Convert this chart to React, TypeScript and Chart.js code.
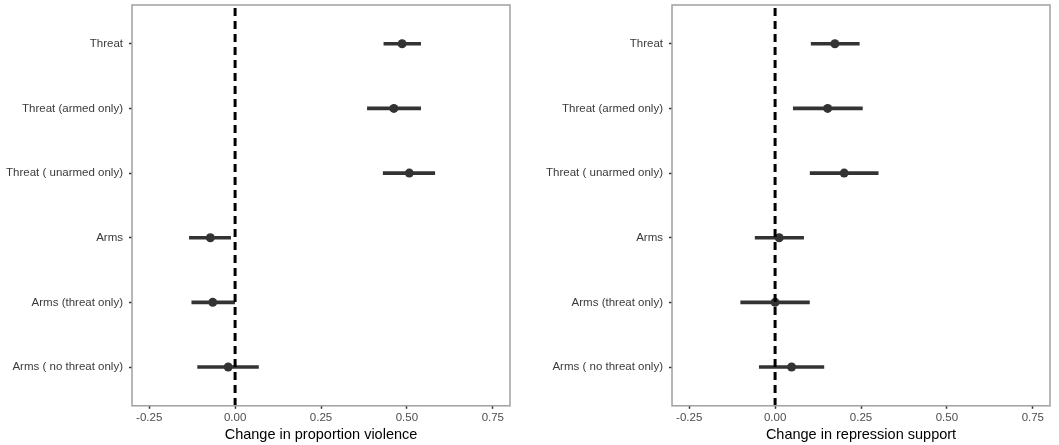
import React, { useEffect, useRef } from "react";
import { Chart, registerables } from "chart.js";

Chart.register(...registerables);

const categories = [
  "Threat",
  "Threat (armed only)",
  "Threat ( unarmed only)",
  "Arms",
  "Arms (threat only)",
  "Arms ( no threat only)",
];

const xTicks = [-0.25, 0, 0.25, 0.5, 0.75];

const violenceEst = [0.486, 0.462, 0.507, -0.072, -0.065, -0.02];
const violenceLo = [0.433, 0.385, 0.431, -0.133, -0.126, -0.109];
const violenceHi = [0.54, 0.54, 0.581, -0.013, 0.0, 0.068];

const repressionEst = [0.174, 0.153, 0.201, 0.012, 0.0, 0.048];
const repressionLo = [0.105, 0.053, 0.102, -0.058, -0.1, -0.046];
const repressionHi = [0.245, 0.254, 0.3, 0.083, 0.1, 0.142];

const zeroLinePlugin = {
  id: "zeroLine",
  afterDatasetsDraw(chart: any) {
    const { ctx, chartArea, scales } = chart;
    const x = scales.x.getPixelForValue(0);
    ctx.save();
    ctx.beginPath();
    ctx.rect(chartArea.left, chartArea.top, chartArea.right - chartArea.left, chartArea.bottom - chartArea.top);
    ctx.clip();
    ctx.strokeStyle = "#000";
    ctx.lineWidth = 3;
    ctx.setLineDash([8, 5]);
    ctx.beginPath();
    ctx.moveTo(x, chartArea.top + 3);
    ctx.lineTo(x, chartArea.bottom);
    ctx.stroke();
    ctx.restore();
  },
};

const borderPlugin = {
  id: "panelBorder",
  afterDraw(chart: any) {
    const { ctx, chartArea } = chart;
    ctx.save();
    ctx.strokeStyle = "#a0a0a0";
    ctx.lineWidth = 1.5;
    ctx.strokeRect(chartArea.left, chartArea.top, chartArea.right - chartArea.left, chartArea.bottom - chartArea.top);
    ctx.restore();
  },
};

function Panel(props: {
  est: number[];
  lo: number[];
  hi: number[];
  title: string;
  yWidth: number;
  rightPad: number;
  width: number;
  left: number;
}) {
  const ref = useRef<HTMLCanvasElement>(null);
  useEffect(() => {
    const barData = categories.map((_, i) => ({ y: i + 1, x: [props.lo[i], props.hi[i]] }));
    const ptData = categories.map((_, i) => ({ y: i + 1, x: props.est[i] }));
    const chart = new Chart(ref.current!, {
      type: "bar",
      data: {
        datasets: [
          {
            type: "bar",
            data: barData as any,
            backgroundColor: "#333333",
            borderWidth: 0,
            barThickness: 3,
            grouped: false,
          } as any,
          {
            type: "scatter",
            data: ptData,
            backgroundColor: "#333333",
            borderWidth: 0,
            pointRadius: 4.5,
          } as any,
        ],
      },
      plugins: [zeroLinePlugin, borderPlugin],
      options: {
        indexAxis: "y",
        animation: false,
        responsive: false,
        maintainAspectRatio: false,
        layout: { padding: { top: 5, right: props.rightPad, left: 0, bottom: 0 } },
        plugins: { legend: { display: false }, tooltip: { enabled: false } },
        scales: {
          x: {
            type: "linear",
            min: -0.3,
            max: 0.8,
            offset: false,
            afterBuildTicks: (axis: any) => {
              axis.ticks = xTicks.map((v) => ({ value: v }));
            },
            grid: {
              display: true,
              offset: false,
              drawOnChartArea: false,
              drawTicks: true,
              tickLength: 3,
              tickWidth: 1.5,
              tickColor: "#333333",
              color: "#333333",
            },
            border: { display: false },
            ticks: {
              color: "#4d4d4d",
              font: { family: "Liberation Sans, Arial", size: 11.5 },
              padding: 2,
              maxRotation: 0,
              callback: (v: any) => Number(v).toFixed(2),
            },
            title: {
              display: true,
              text: props.title,
              color: "#000",
              font: { family: "Liberation Sans, Arial", size: 14.5 },
              padding: { top: 0, bottom: 1 },
            },
          },
          y: {
            type: "linear",
            reverse: true,
            min: 0.4,
            max: 6.6,
            offset: false,
            afterBuildTicks: (axis: any) => {
              axis.ticks = categories.map((_, i) => ({ value: i + 1 }));
            },
            afterFit: (axis: any) => {
              axis.width = props.yWidth;
              axis.paddingTop = 0;
              axis.paddingBottom = 0;
            },
            grid: {
              display: true,
              offset: false,
              drawOnChartArea: false,
              drawTicks: true,
              tickLength: 3,
              tickWidth: 1.5,
              tickColor: "#333333",
              color: "#333333",
            },
            border: { display: false },
            ticks: {
              color: "#3a3a3a",
              font: { family: "Liberation Sans, Arial", size: 11.5 },
              padding: 6,
              callback: (v: any) => categories[Number(v) - 1] ?? "",
            },
          },
        },
      },
    } as any);
    return () => chart.destroy();
  }, []);
  return (
    <canvas
      ref={ref}
      width={props.width}
      height={445}
      style={{ position: "absolute", left: props.left, top: 0, width: props.width, height: 445 }}
    />
  );
}

export default function App() {
  return (
    <div style={{ position: "fixed", left: 0, top: 0, width: 1059, height: 445, background: "#fff" }}>
      <Panel
        est={violenceEst}
        lo={violenceLo}
        hi={violenceHi}
        title="Change in proportion violence"
        yWidth={132}
        rightPad={20}
        width={530}
        left={0}
      />
      <Panel
        est={repressionEst}
        lo={repressionLo}
        hi={repressionHi}
        title="Change in repression support"
        yWidth={142}
        rightPad={9}
        width={529}
        left={530}
      />
    </div>
  );
}
